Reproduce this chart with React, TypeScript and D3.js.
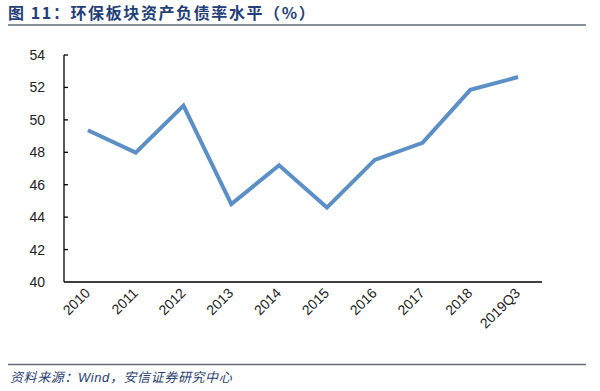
import React from "react";
import * as d3 from "d3";

// data
const categories = ["2010", "2011", "2012", "2013", "2014", "2015", "2016", "2017", "2018", "2019Q3"];
const debtRatio = [49.36, 47.98, 50.88, 44.8, 47.2, 44.59, 47.53, 48.58, 51.85, 52.64];
const yTicks = [40, 42, 44, 46, 48, 50, 52, 54];

const W = 600;
const H = 391;

export default function App() {
  const left = 64;
  const right = 542;
  const top = 55;
  const bottom = 282;

  const x = d3.scaleBand<string>().domain(categories).range([left, right]);
  const y = d3.scaleLinear().domain([40, 54]).range([bottom, top]);

  const pts = categories.map((c, i) => ({ c, v: debtRatio[i] }));
  const line = d3
    .line<{ c: string; v: number }>()
    .x((d) => (x(d.c) as number) + x.bandwidth() / 2)
    .y((d) => y(d.v));

  const font = "'Liberation Sans', Arial, sans-serif";
  const cjk = "'Noto Sans CJK SC', sans-serif";

  return (
    <svg
      width={W}
      height={H}
      style={{ position: "absolute", left: 0, top: 0, background: "#fff" }}
    >
      {/* title */}
      <text
        x={8}
        y={19}
        fontFamily={cjk}
        fontWeight="bold"
        fontSize={16}
        letterSpacing={1.6}
        fill="#243f78"
      >
        图 11：环保板块资产负债率水平（%）
      </text>
      <line x1={8} x2={586} y1={25} y2={25} stroke="#5f6b7a" strokeWidth={1.5} />

      {/* y axis */}
      <line x1={left} x2={left} y1={top} y2={bottom} stroke="#000" strokeWidth={1.3} />
      {yTicks.map((t) => (
        <g key={t}>
          {t !== 40 && (
            <line x1={left} x2={left + 4} y1={y(t)} y2={y(t)} stroke="#000" strokeWidth={1.3} />
          )}
          <text
            x={45}
            y={y(t)}
            dy="0.36em"
            textAnchor="end"
            fontFamily={font}
            fontSize={14}
            fill="#222"
          >
            {t}
          </text>
        </g>
      ))}

      {/* x axis */}
      <line x1={left} x2={right} y1={bottom} y2={bottom} stroke="#000" strokeWidth={1.3} />
      {categories.map((c) => (
        <text
          key={c}
          transform={`translate(${(x(c) as number) + x.bandwidth() / 2 + 3},${bottom + 12}) rotate(-45)`}
          textAnchor="end"
          fontFamily={font}
          fontSize={14}
          fill="#222"
        >
          {c}
        </text>
      ))}

      {/* series */}
      <path
        d={line(pts) ?? ""}
        fill="none"
        stroke="#5b8fc6"
        strokeWidth={4}
        strokeLinejoin="miter"
      />

      {/* footer */}
      <line x1={8} x2={586} y1={364.5} y2={364.5} stroke="#5f6b7a" strokeWidth={1.5} />
      <text
        x={10}
        y={382}
        fontFamily={cjk}
        fontStyle="italic"
        fontSize={13}
        letterSpacing={0.6}
        fill="#2b4170"
      >
        资料来源：<tspan fontFamily={font}>Wind</tspan>，安信证券研究中心
      </text>
    </svg>
  );
}
